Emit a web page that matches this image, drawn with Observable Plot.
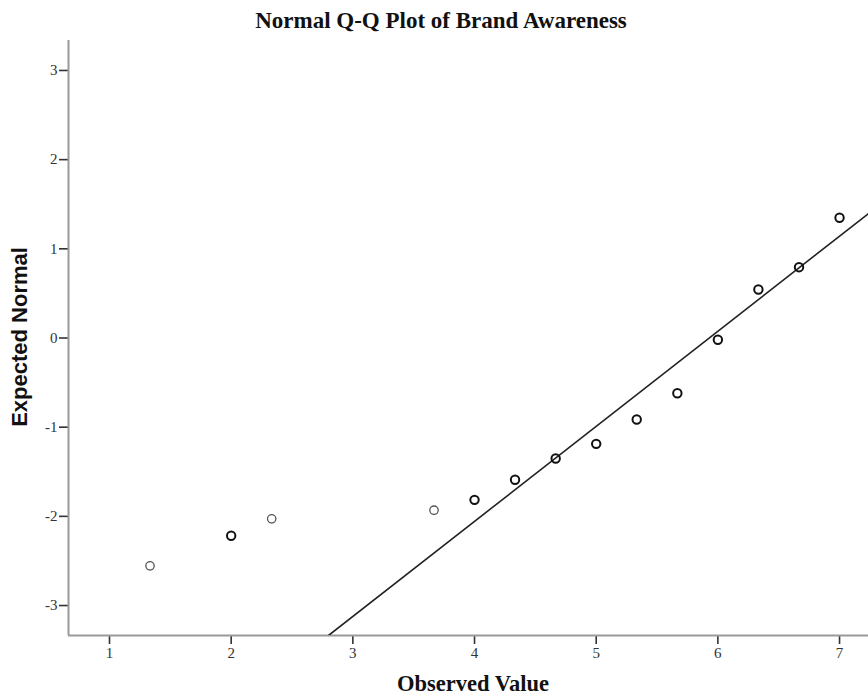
<!DOCTYPE html>
<html>
<head>
<meta charset="utf-8">
<script src="https://cdn.jsdelivr.net/npm/d3@7"></script>
<script src="https://cdn.jsdelivr.net/npm/@observablehq/plot@0.6"></script>
<style>
  html, body { margin: 0; padding: 0; background: #fff; }
  #wrap { position: relative; width: 868px; height: 696px; overflow: hidden; }
  #title { position: absolute; left: 0; width: 882px; top: 8px; text-align: center;
    font-family: "Liberation Serif", serif; font-weight: bold; font-size: 23px; color: #111; }
  #xlabel { position: absolute; left: 78px; width: 790px; top: 671px; text-align: center;
    font-family: "Liberation Serif", serif; font-weight: bold; font-size: 22.5px; color: #111; }
  #ylabel { position: absolute; left: 20px; top: 337px; transform: translate(-50%, -50%) rotate(-90deg);
    white-space: nowrap; font-family: "Liberation Sans", Arial, sans-serif; font-weight: bold; font-size: 22px; color: #111; }
</style>
</head>
<body>
<div id="wrap">
  <div id="chart"></div>
  <div id="title">Normal Q-Q Plot of Brand Awareness</div>
  <div id="xlabel">Observed Value</div>
  <div id="ylabel">Expected Normal</div>
</div>
<script>
const observed = [1.333, 2, 2.333, 3.667, 4, 4.333, 4.667, 5, 5.333, 5.667, 6, 6.333, 6.667, 7];
const expected = [-2.555, -2.218, -2.028, -1.931, -1.815, -1.59, -1.351, -1.187, -0.914, -0.619, -0.02, 0.544, 0.794, 1.348];
const cases = [1, 2, 1, 1, 2, 2, 2, 2, 2, 2, 2, 2, 2, 2];
const xTicks = [1, 2, 3, 4, 5, 6, 7];
const yTicks = [-3, -2, -1, 0, 1, 2, 3];
const lineX = [2.80, 7.238];
const lineY = [-3.336, 1.396];
const xDomain = [0.663, 7.238];
const yDomain = [-3.336, 3.336];

const pts = observed.map((x, i) => ({x, y: expected[i], n: cases[i]}));
const linePts = lineX.map((x, i) => ({x, y: lineY[i]}));
const fmt = d => String(d);

const chart = Plot.plot({
  width: 868,
  height: 696,
  marginTop: 40,
  marginRight: 0,
  marginBottom: 61,
  marginLeft: 68,
  style: { fontFamily: "Liberation Serif, serif", fontSize: "15px", color: "#333", background: "#fff" },
  x: { domain: xDomain, ticks: xTicks, label: null, tickSize: 0 },
  y: { domain: yDomain, ticks: yTicks, label: null, tickSize: 0 },
  marks: [
    Plot.axisX({ticks: xTicks, tickFormat: fmt, tickSize: 9, tickPadding: 3, stroke: "#333", strokeWidth: 1.6, fontSize: 15, fill: "#333", label: null}),
    Plot.axisY({ticks: yTicks, tickFormat: fmt, tickSize: 9, tickPadding: 2, stroke: "#333", strokeWidth: 1.6, fontSize: 15, fill: "#333", label: null}),
    Plot.ruleX([xDomain[0]], {stroke: "#999", strokeWidth: 2}),
    Plot.ruleY([yDomain[0]], {stroke: "#999", strokeWidth: 2}),
    Plot.line(linePts, {x: "x", y: "y", stroke: "#222", strokeWidth: 1.6, clip: true}),
    Plot.dot(pts.filter(d => d.n === 1), {x: "x", y: "y", r: 4.2, stroke: "#555", strokeWidth: 1.3, fill: "none"}),
    Plot.dot(pts.filter(d => d.n > 1), {x: "x", y: "y", r: 4.2, stroke: "#111", strokeWidth: 2, fill: "none"})
  ]
});
document.getElementById("chart").appendChild(chart);
</script>
</body>
</html>
